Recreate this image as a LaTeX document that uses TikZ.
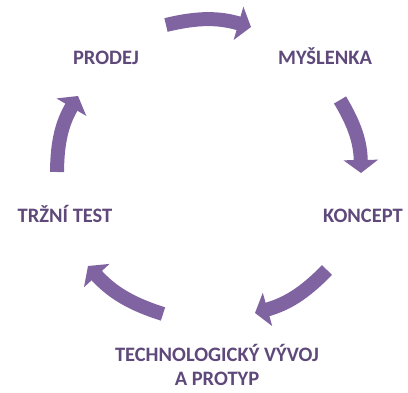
\documentclass[tikz,border=0pt]{standalone}
\usepackage{fontspec}
\setmainfont{Carlito}
\usetikzlibrary{arrows.meta}
\definecolor{cyclepurple}{HTML}{8064A2}
\definecolor{labelpurple}{HTML}{5F497A}
\begin{document}
\begin{tikzpicture}
  [x=1pt,y=1pt,
   every node/.style={font=\fontsize{20.5}{24}\selectfont\bfseries,text=labelpurple,inner sep=0pt,anchor=base,align=center},
   cyclearrow/.style={draw=cyclepurple,line width=14pt,-{Triangle[length=13pt,width=34pt]}}]
  \useasboundingbox (0,0) rectangle (408,-393);
  \node (prodej) at (106,-65) {PRODEJ};
  \node (myslenka) at (325,-65) {MYŠLENKA};
  \node (koncept) at (363,-223) {KONCEPT};
  \node (vyvoj) at (217,-386) {TECHNOLOGICKÝ VÝVOJ\\A PROTYP};
  \node (test) at (65,-223) {TRŽNÍ TEST};

  \coordinate (t1) at (166,-25);  \coordinate (h1) at (251,-27);
  \coordinate (t2) at (340,-100); \coordinate (h2) at (361,-173);
  \coordinate (t3) at (327,-270); \coordinate (h3) at (255,-313);
  \coordinate (t4) at (163,-314); \coordinate (h4) at (88,-266);
  \coordinate (t5) at (57,-172);  \coordinate (h5) at (78,-96);

  \foreach \from/\to in {t1/h1,t2/h2,t3/h3,t4/h4,t5/h5}
    \draw[cyclearrow] (\from) to[bend left=15] (\to);

\end{tikzpicture}
\end{document}
